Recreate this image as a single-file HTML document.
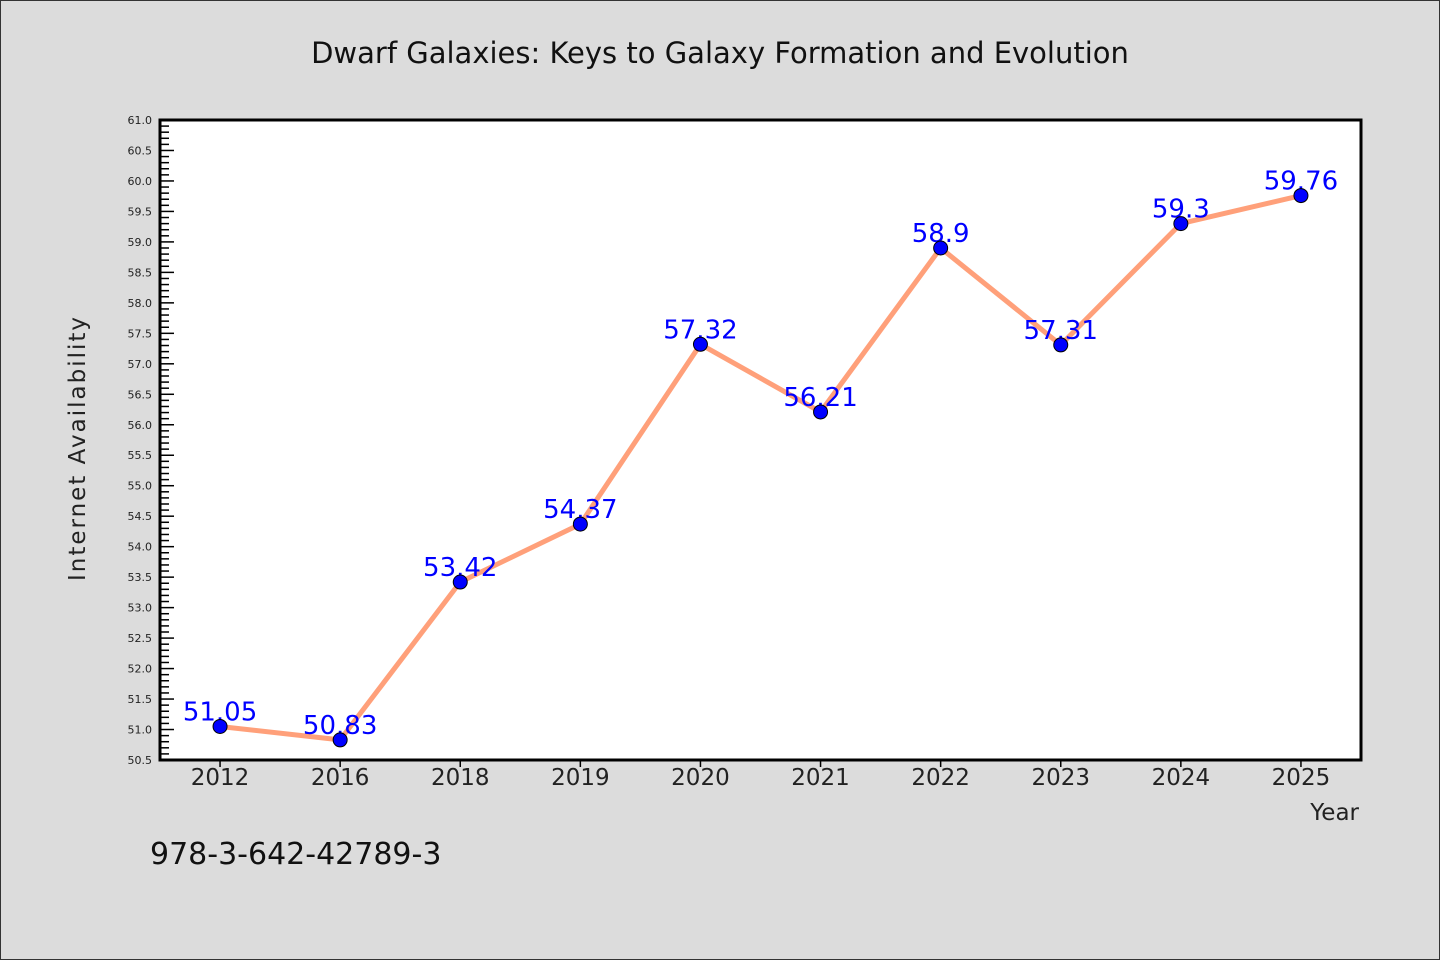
<!DOCTYPE html>
<html><head><meta charset="utf-8"><style>
body{margin:0;background:#dcdcdc}
svg{display:block}
text{font-family:"WenQuanYi Zen Hei","DejaVu Sans",sans-serif}
</style></head><body>
<svg id="chart" width="1440" height="960" xmlns="http://www.w3.org/2000/svg">
<rect x="0.5" y="0.5" width="1439" height="959" fill="#dcdcdc" stroke="#333"/>
<text x="720" y="63" text-anchor="middle" font-size="29" fill="#111">Dwarf Galaxies: Keys to Galaxy Formation and Evolution</text>
<rect x="160" y="120" width="1201" height="640" fill="#fff"/>
<g id="yticks"></g>
<g id="xticks"></g>
<g id="marks"></g>
<rect x="160" y="120" width="1201" height="640" fill="none" stroke="#000" stroke-width="3"/>
<text transform="translate(85,448) rotate(-90)" text-anchor="middle" font-size="23" fill="#222" letter-spacing="2">Internet Availability</text>
<text x="1359" y="820" text-anchor="end" font-size="23" fill="#222">Year</text>
<text x="150" y="864" font-size="30" fill="#111">978-3-642-42789-3</text>
</svg>
<script>
const categories=["2012","2016","2018","2019","2020","2021","2022","2023","2024","2025"];
const values=[51.05,50.83,53.42,54.37,57.32,56.21,58.9,57.31,59.3,59.76];
const valueLabels=["51.05","50.83","53.42","54.37","57.32","56.21","58.9","57.31","59.3","59.76"];
const yMin=50.5,yMax=61.0;
const NS="http://www.w3.org/2000/svg";
const L=160,T=120,W=1201,H=640;
function y(v){return T+H-(v-yMin)/(yMax-yMin)*H;}
function x(i){return L+W/categories.length*(i+0.5);}
function mk(tag,attrs,parent){const e=document.createElementNS(NS,tag);for(const k in attrs)e.setAttribute(k,attrs[k]);parent.appendChild(e);return e;}
const yt=document.getElementById('yticks'),xt=document.getElementById('xticks'),m=document.getElementById('marks');
for(let k=0;k<=105;k++){const v=yMin+k*0.1;const yy=y(v);const major=k%5===0;
 const t=mk('line',{x1:L,x2:L+(major?14:9),y1:yy,y2:yy,stroke:'#000','stroke-width':1.5},yt);
 
 
 if(major){const lb=mk('text',{x:L-8,y:yy+4,'text-anchor':'end','font-size':11,fill:'#222'},yt);lb.textContent=v.toFixed(1);
 
 }}
categories.forEach((c,i)=>{const xx=x(i);
 const t=mk('line',{x1:xx,x2:xx,y1:T+H,y2:T+H+7,stroke:'#000','stroke-width':1.5},xt);
 
 
 const lb=mk('text',{x:xx,y:T+H+25,'text-anchor':'middle','font-size':23,fill:'#222'},xt);lb.textContent=c;
 
 });
const pl=mk('polyline',{points:values.map((v,i)=>x(i)+','+y(v)).join(' '),fill:'none',stroke:'#ffa07a','stroke-width':5,'stroke-linejoin':'round'},m);


values.forEach((v,i)=>{
 const lb=mk('text',{x:x(i),y:y(v)-6,'text-anchor':'middle','font-size':26,fill:'#0000ff','font-family':'DejaVu Sans,sans-serif'},m);lb.textContent=valueLabels[i];
 
 
 const c=mk('circle',{cx:x(i),cy:y(v),r:7,fill:'#0000ff',stroke:'#000','stroke-width':1},m);
 
 });
</script>
</body></html>
